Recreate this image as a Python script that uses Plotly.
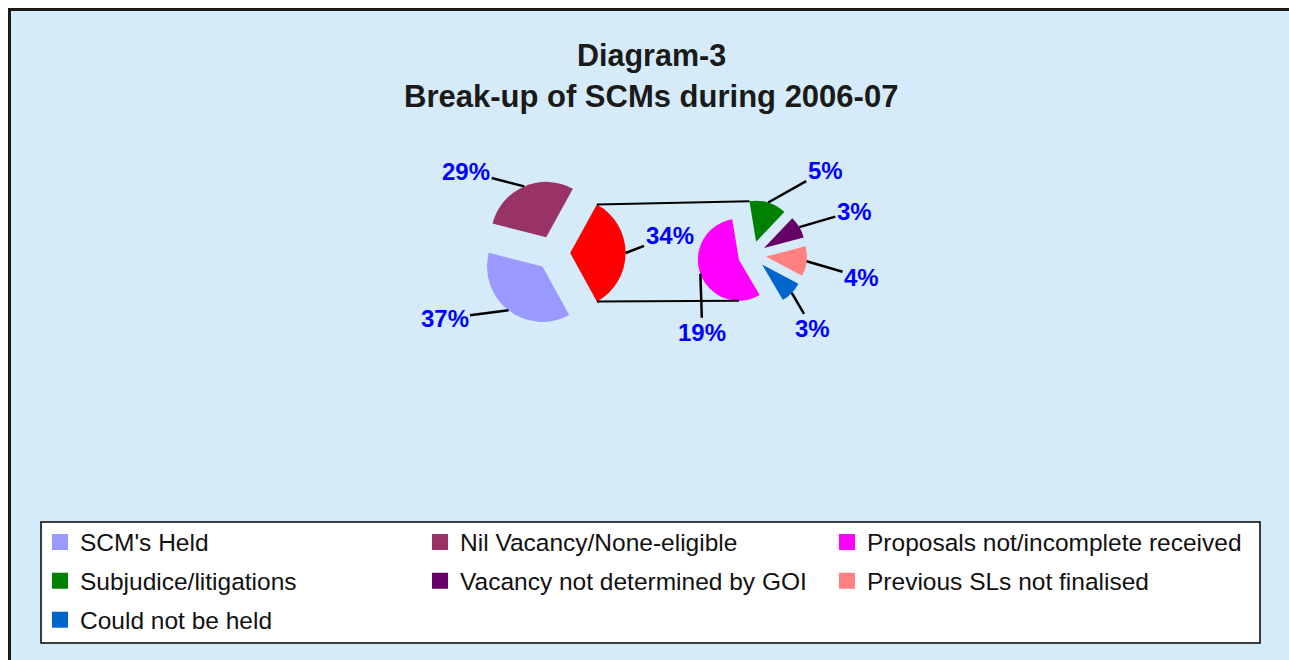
import math
import plotly.graph_objects as go

# ---------------- data ----------------
title_lines = ["Diagram-3", "Break-up of SCMs during 2006-07"]

main_labels = ["SCM's Held", "Nil Vacancy/None-eligible", "Other"]
main_values = [37, 29, 34]
main_colors = ["#9999FF", "#993366", "#FF0000"]

sub_labels = ["Proposals not/incomplete received", "Subjudice/litigations",
              "Vacancy not determined by GOI", "Previous SLs not finalised",
              "Could not be held"]
sub_values = [19, 5, 3, 4, 3]
sub_colors = ["#FF00FF", "#008000", "#660066", "#FF8080", "#0066CC"]

legend_columns = [
    ["SCM's Held", "Subjudice/litigations", "Could not be held"],
    ["Nil Vacancy/None-eligible", "Vacancy not determined by GOI"],
    ["Proposals not/incomplete received", "Previous SLs not finalised"],
]

# ---------------- layout constants (page pixels) ----------------
W, H = 1289, 660
EDGE = 8            # white band on the left / top of the picture
BG = "#D6EBF9"
FONT = "Liberation Sans, Arial, sans-serif"

C1, R1, PULL1 = (553.0, 253.0), 55.4, 0.31
C2, R2, PULL2 = (752.0, 255.0), 41.0, 0.34
ROT1 = 90 - (main_values[0] + main_values[1] + main_values[2] / 2) * 360 / sum(main_values)
ROT2 = 149.5

# label offsets (px) from the slice edge to the label centre
main_offsets = [(-64, 8), (-58, -15), (44, -17)]
sub_offsets = [(2, 59), (57, -32), (55, -16), (55, 16), (21, 36)]


def px2paper(x, y):
    return x / W, 1 - y / H


def domain(c, r, pull):
    half = r * (1 + pull)
    return dict(x=[(c[0] - half) / W, (c[0] + half) / W],
                y=[1 - (c[1] + half) / H, 1 - (c[1] - half) / H])


def direction(a):
    a = math.radians(a)
    return math.sin(a), -math.cos(a)


def slice_angles(values, rot):
    tot = sum(values)
    out, cum = [], 0
    for v in values:
        s = rot + cum * 360 / tot
        e = s + v * 360 / tot
        out.append((s, (s + e) / 2, e))
        cum += v
    return out


def point(c, d, a):
    dx, dy = direction(a)
    return c[0] + d * dx, c[1] + d * dy


fig = go.Figure()

fig.add_trace(go.Pie(labels=main_labels, values=main_values, sort=False,
                     direction="clockwise", rotation=ROT1,
                     pull=[PULL1] * len(main_values),
                     marker=dict(colors=main_colors, line=dict(width=0)),
                     textinfo="none", hoverinfo="skip", showlegend=False,
                     domain=domain(C1, R1, PULL1)))
fig.add_trace(go.Pie(labels=sub_labels, values=sub_values, sort=False,
                     direction="clockwise", rotation=ROT2,
                     pull=[PULL2] * len(sub_values),
                     marker=dict(colors=sub_colors, line=dict(width=0)),
                     textinfo="none", hoverinfo="skip", showlegend=False,
                     domain=domain(C2, R2, PULL2)))

# legend entries
color_of = dict(zip(main_labels + sub_labels, main_colors + sub_colors))
legend_names = ["legend", "legend2", "legend3"]
for col, names in enumerate(legend_columns):
    for name in names:
        fig.add_trace(go.Scatter(x=[None], y=[None], mode="markers", name=name,
                                 marker=dict(symbol="square", size=16, color=color_of[name]),
                                 legend=legend_names[col], legendgroup=name,
                                 hoverinfo="skip"))

annotations = []
# percentage labels with leader lines
ang1 = slice_angles(main_values, ROT1)
ang2 = slice_angles(sub_values, ROT2)
for vals, angs, c, r, pull, offs in [(main_values, ang1, C1, R1, PULL1, main_offsets),
                                     (sub_values, ang2, C2, R2, PULL2, sub_offsets)]:
    for v, (s, m, e), (ax, ay) in zip(vals, angs, offs):
        px, py = point(c, r * (1 + pull), m)
        x, y = px2paper(px, py)
        annotations.append(dict(x=x, y=y, xref="paper", yref="paper", ax=ax, ay=ay,
                                text=f"{v}%", showarrow=True, arrowhead=0,
                                arrowwidth=2.5, arrowcolor="black", standoff=0,
                                font=dict(family=FONT, size=24, color="#0000FF", weight="bold")))

# title lines
for txt, yc, sz in [(title_lines[0], 55, 30.5), (title_lines[1], 96.5, 31)]:
    annotations.append(dict(x=651 / W, y=1 - yc / H, xref="paper", yref="paper",
                            text=txt, showarrow=False, xanchor="center", yanchor="middle",
                            font=dict(family=FONT, size=sz, color="#1A1A1A", weight="bold")))

# connector lines between the pies
red_s, red_m, red_e = ang1[2]
red_vertex = point(C1, R1 * PULL1, red_m)
red_top = point(red_vertex, R1, red_s)
red_bot = point(red_vertex, R1, red_e)
g_s, g_m, g_e = ang2[1]
green_vertex = point(C2, R2 * PULL2, g_m)
sec_top = point(green_vertex, R2, g_s)
mag_vertex = point(C2, R2 * PULL2, ang2[0][1])
sec_bot = point(mag_vertex, R2, 180)

shapes = []
# chart area background
shapes.append(dict(type="rect", xref="paper", yref="paper", x0=EDGE / W, x1=1.01,
                   y0=-0.01, y1=1 - EDGE / H, fillcolor=BG, line=dict(width=0), layer="below"))
# legend box
shapes.append(dict(type="rect", xref="paper", yref="paper", x0=41 / W, x1=1260 / W,
                   y0=1 - 643 / H, y1=1 - 522 / H, fillcolor="white",
                   line=dict(color="black", width=1.5), layer="below"))
for p0, p1 in [(red_top, sec_top), (red_bot, sec_bot)]:
    x0, y0 = px2paper(*p0)
    x1, y1 = px2paper(*p1)
    shapes.append(dict(type="line", xref="paper", yref="paper", x0=x0, y0=y0, x1=x1, y1=y1,
                       line=dict(color="black", width=2), layer="above"))
# frame (left and top edges)
fx = (EDGE + 1.5) / W
fy = 1 - (EDGE + 1.5) / H
shapes.append(dict(type="line", xref="paper", yref="paper", x0=fx, x1=fx, y0=-0.01, y1=fy + 1.5 / H,
                   line=dict(color="#1A1A1A", width=3)))
shapes.append(dict(type="line", xref="paper", yref="paper", x0=fx - 1.5 / W, x1=1.01, y0=fy, y1=fy,
                   line=dict(color="#1A1A1A", width=3)))

legend_common = dict(orientation="v", xanchor="left", yanchor="top",
                     bgcolor="rgba(0,0,0,0)", borderwidth=0,
                     font=dict(family=FONT, size=24.5, color="#111111"),
                     traceorder="grouped", tracegroupgap=4, itemclick=False,
                     itemdoubleclick=False)
legend_x = [40, 420, 827]
legend_top = 519.5

fig.update_layout(
    width=W, height=H,
    margin=dict(l=0, r=0, t=0, b=0, pad=0),
    paper_bgcolor="white", plot_bgcolor="rgba(0,0,0,0)",
    xaxis=dict(visible=False), yaxis=dict(visible=False),
    hovermode=False,
    annotations=annotations, shapes=shapes,
    legend=dict(legend_common, x=legend_x[0] / W, y=1 - legend_top / H),
    legend2=dict(legend_common, x=legend_x[1] / W, y=1 - legend_top / H),
    legend3=dict(legend_common, x=legend_x[2] / W, y=1 - legend_top / H),
)

fig.write_html("out.html",
               config={"displayModeBar": False},
               post_script="document.body.style.margin='0';"
                           "document.body.style.overflow='hidden';")
